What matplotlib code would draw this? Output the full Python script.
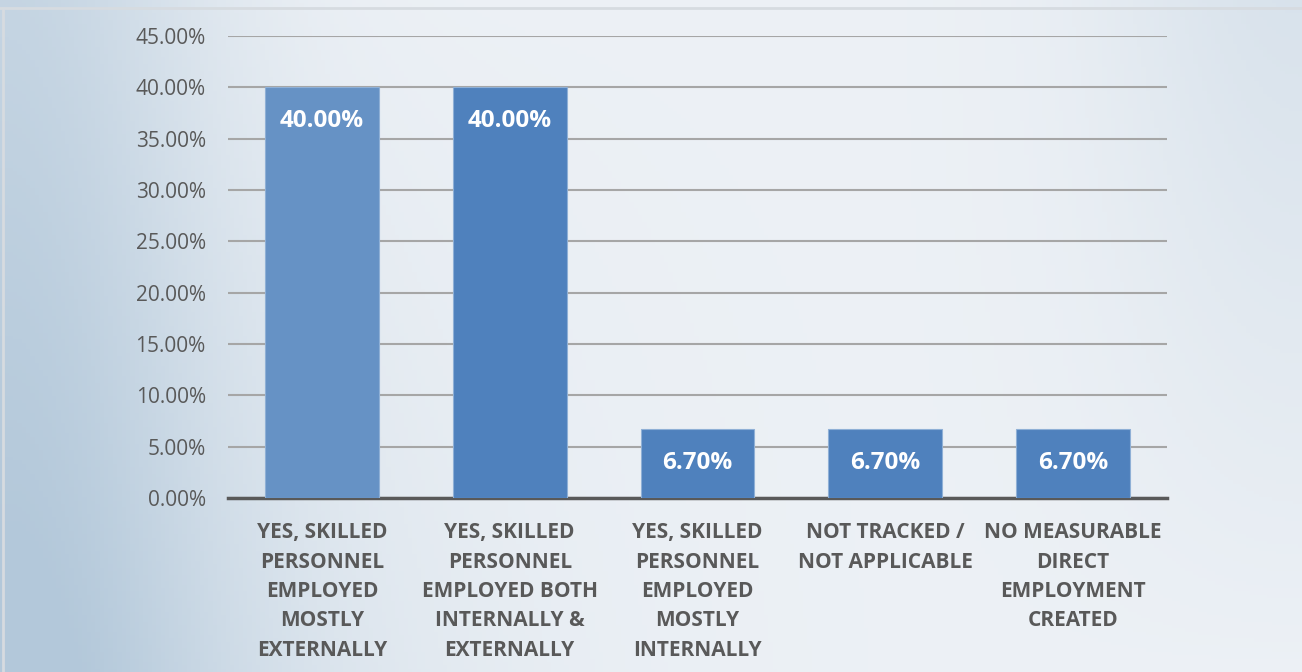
import numpy as np
import matplotlib.pyplot as plt
from matplotlib.colors import LinearSegmentedColormap

# --- Data ---
categories = [
    'YES, SKILLED\nPERSONNEL\nEMPLOYED\nMOSTLY\nEXTERNALLY',
    'YES, SKILLED\nPERSONNEL\nEMPLOYED BOTH\nINTERNALLY &\nEXTERNALLY',
    'YES, SKILLED\nPERSONNEL\nEMPLOYED\nMOSTLY\nINTERNALLY',
    'NOT TRACKED /\nNOT APPLICABLE',
    'NO MEASURABLE\nDIRECT\nEMPLOYMENT\nCREATED',
]
values = [40.0, 40.0, 6.7, 6.7, 6.7]
bar_colors = ['#6692c5', '#4f81bd', '#4f81bd', '#4f81bd', '#4f81bd']
yticks = [0, 5, 10, 15, 20, 25, 30, 35, 40, 45]

plt.rcParams['font.family'] = ['Open Sans', 'DejaVu Sans']

fig = plt.figure(figsize=(13.02, 6.72), dpi=100)

# background: soft bluish gradient
bg = fig.add_axes([0, 0, 1, 1], zorder=-10)
xx = np.linspace(0, 1, 300)
yy = np.linspace(0, 1, 200)
X, Y = np.meshgrid(xx, yy)
Z = 0.6 * np.exp(-((X - 0.0) / 0.16) ** 2) + 0.35 * (1 - Y) * np.exp(-((X - 0.05) / 0.3) ** 2) \
    + 0.3 * np.exp(-((X - 1.0) / 0.15) ** 2) * Y + 0.12
cmap = LinearSegmentedColormap.from_list('bg', ['#f4f6f9', '#b3c8da'])
bg.imshow(Z, cmap=cmap, aspect='auto', extent=[0, 1, 0, 1], origin='lower', vmin=0, vmax=1)
bg.plot([0, 1], [0.988, 0.988], color='#d6dbe0', lw=2)
bg.plot([0.002, 0.002], [0, 0.988], color='#d6dbe0', lw=2)
bg.set_xlim(0, 1)
bg.set_ylim(0, 1)
bg.axis('off')

ax = fig.add_axes([228 / 1302, 1 - 498 / 672, 939 / 1302, 462 / 672])
ax.patch.set_alpha(0)

x = np.arange(len(categories))
bars = ax.bar(x, values, width=0.605, color=bar_colors, edgecolor='#8fb0d6', linewidth=0.8, zorder=3)

for b, v in zip(bars, values):
    ax.text(b.get_x() + b.get_width() / 2, v - 3.3, f'{v:.2f}%', ha='center', va='center',
            color='white', fontsize=17.5, fontweight='bold', zorder=4)

ax.set_xlim(-0.5, len(categories) - 0.5)
ax.set_ylim(0, 45)
ax.set_yticks(yticks)
ax.set_yticklabels([f'{t:.2f}%' for t in yticks], color='#595959', fontsize=15)
ax.yaxis.grid(True, color='#a6a6a6', lw=1.5, zorder=0)
ax.set_axisbelow(True)
ax.tick_params(axis='y', length=0, pad=16)
ax.tick_params(axis='x', length=0, pad=17.5)
ax.set_xticks(x)
ax.set_xticklabels(categories, color='#595959', fontsize=15, fontweight='bold', linespacing=1.52)

for s in ['top', 'right', 'left']:
    ax.spines[s].set_visible(False)
ax.spines['bottom'].set_color('#595959')
ax.spines['bottom'].set_linewidth(2.5)

fig.savefig('out.png', dpi=100)
